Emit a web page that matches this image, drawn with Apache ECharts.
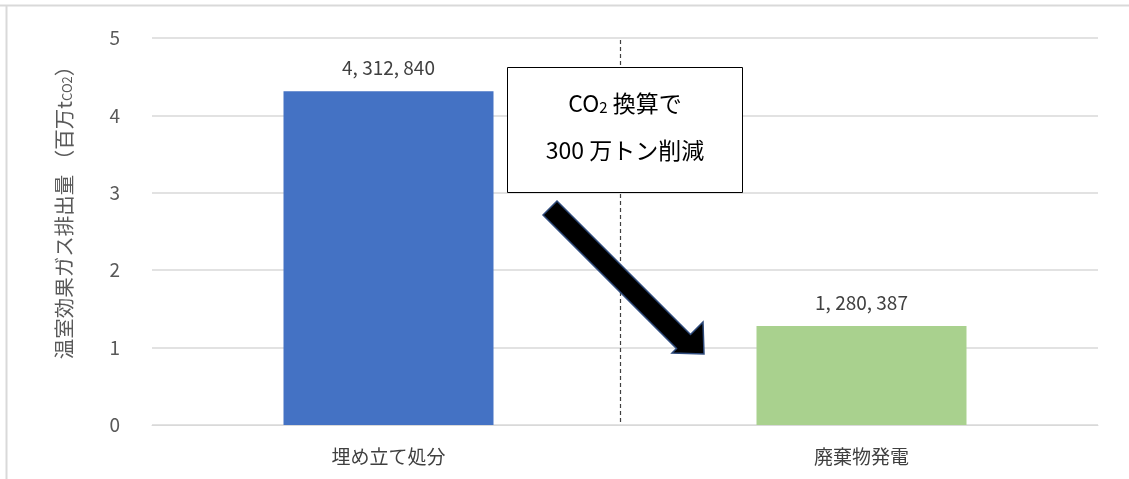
<!DOCTYPE html>
<html>
<head>
<meta charset="utf-8">
<script src="https://cdn.jsdelivr.net/npm/echarts@6/dist/echarts.min.js"></script>
<style>
  html, body { margin: 0; padding: 0; background: #fff; }
  #chart { width: 1129px; height: 479px; }
</style>
</head>
<body>
<div id="chart"></div>
<script>
const categories = ['埋め立て処分', '廃棄物発電'];
const emissions = [4312840, 1280387];
const barColors = ['#4472C4', '#A9D18E'];
const yTicks = [0, 1, 2, 3, 4, 5];

const FONT = '"Noto Sans CJK JP", "Noto Sans", sans-serif';
const chart = echarts.init(document.getElementById('chart'), null, { renderer: 'canvas' });

const option = {
  backgroundColor: '#fff',
  animation: false,
  grid: { left: 152, right: 31, top: 38, bottom: 54 },
  xAxis: {
    type: 'category',
    data: categories,
    axisLine: { lineStyle: { color: '#D9D9D9' } },
    axisTick: { show: false },
    axisLabel: { color: '#404040', fontSize: 19, fontFamily: FONT, margin: 22 }
  },
  yAxis: {
    type: 'value',
    min: yTicks[0],
    max: yTicks[yTicks.length - 1],
    interval: 1,
    name: '温室効果ガス排出量 （百万t{sub|CO2}）',
    nameLocation: 'middle',
    nameGap: 78,
    nameTextStyle: {
      color: '#595959', fontSize: 20.5, fontFamily: FONT,
      padding: [0, 0, 0, 48],
      rich: { sub: { fontSize: 13, color: '#595959', fontFamily: FONT, padding: [6, 0, 0, 0] } }
    },
    axisLine: { show: false },
    axisTick: { show: false },
    axisLabel: { color: '#595959', fontSize: 19, fontFamily: FONT, margin: 32 },
    splitLine: { lineStyle: { color: '#D9D9D9', width: 1.5 } }
  },
  series: [{
    type: 'bar',
    barWidth: 210,
    data: emissions.map((v, i) => ({ value: v / 1e6, raw: v, itemStyle: { color: barColors[i] } })),
    label: {
      show: true,
      position: 'top',
      distance: 14,
      color: '#404040',
      fontSize: 19,
      fontFamily: FONT,
      formatter: p => p.data.raw.toLocaleString('en-US').replace(/,/g, ', ')
    }
  }],
  graphic: [
    { type: 'line', shape: { x1: 0, y1: 5.5, x2: 1129, y2: 5.5 }, style: { stroke: '#D9D9D9', lineWidth: 2 } },
    { type: 'line', shape: { x1: 6.5, y1: 5, x2: 6.5, y2: 479 }, style: { stroke: '#D9D9D9', lineWidth: 2 } },
    { type: 'line', shape: { x1: 620.5, y1: 40, x2: 620.5, y2: 422 }, style: { stroke: '#404040', lineWidth: 1.2, lineDash: [4, 3] }, z: 5 },
    {
      type: 'polygon',
      shape: { points: [[543, 215], [557, 201], [690.5, 334.5], [703, 322], [704, 354], [672, 353], [676.5, 348.5]] },
      style: { fill: '#000', stroke: '#2F4B7C', lineWidth: 1.5 },
      z: 10
    },
    {
      type: 'rect',
      shape: { x: 507.5, y: 67.5, width: 235, height: 125 },
      style: { fill: '#fff', stroke: '#000', lineWidth: 1 },
      z: 10
    },
    {
      type: 'text',
      x: 625, y: 103, z: 11,
      style: {
        text: 'CO{sub|2} 換算で',
        fill: '#000', fontSize: 23, fontFamily: FONT,
        align: 'center', verticalAlign: 'middle',
        rich: { sub: { fontSize: 15, fill: '#000', fontFamily: FONT, padding: [8, 0, 0, 0] } }
      }
    },
    {
      type: 'text',
      x: 625, y: 150, z: 11,
      style: {
        text: '300 万トン削減',
        fill: '#000', fontSize: 23, fontFamily: FONT,
        align: 'center', verticalAlign: 'middle'
      }
    }
  ]
};

chart.setOption(option);
</script>
</body>
</html>
